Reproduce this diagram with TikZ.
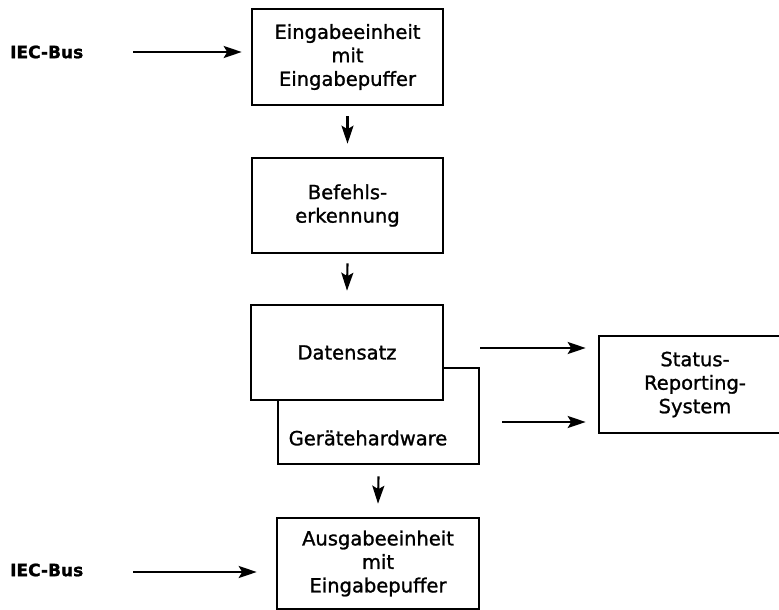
\documentclass[tikz,border=0pt]{standalone}
\usepackage{fontspec}
\setmainfont[FakeBold=1.2]{DejaVu Sans}
\usetikzlibrary{arrows.meta}
\tikzset{
  boxnode/.style={draw, line width=2.6pt, rectangle, inner sep=0pt, align=center,
    font=\fontsize{19.5}{23.5}\selectfont},
  txt/.style={inner sep=0pt, align=center, font=\fontsize{19.5}{23.5}\selectfont},
  bus/.style={inner sep=0pt, font=\bfseries\fontsize{17}{20}\selectfont},
  arr/.style={line width=2.1pt, -{Stealth[length=18pt,width=12pt,inset=3.5pt]}}
}
\begin{document}
\begin{tikzpicture}[x=1pt,y=-1pt]
\useasboundingbox (0,0) rectangle (779,610);
\clip (0,0) rectangle (779,610);
\fill[white] (0,0) rectangle (779,610);
% boxes
\node[boxnode, minimum width=191pt, minimum height=96pt] (b1) at (347.5,57)
  {Eingabeeinheit\\mit\\Eingabepuffer};
\node[boxnode, minimum width=191pt, minimum height=95pt] (b2) at (347.5,205.5)
  {Befehls-\\erkennung};
\node[boxnode, minimum width=201pt, minimum height=96pt] (ger) at (378.5,416) {};
\node[txt] (gtext) at (368,438) {Gerätehardware};
\node[boxnode, fill=white, minimum width=192pt, minimum height=95pt] (dat) at (347,352.5)
  {Datensatz};
\node[boxnode, minimum width=202pt, minimum height=91pt] (b4) at (378,563.5)
  {Ausgabeeinheit\\mit\\Eingabepuffer};
\node[boxnode, minimum width=192pt, minimum height=97pt] (st) at (695,384.5)
  {Status-\\Reporting-\\System};
% IEC bus labels
\node[bus, anchor=west] (iec1) at (10,52) {IEC-Bus};
\node[bus, anchor=west] (iec2) at (10,570) {IEC-Bus};
% connectors
\draw[arr] ([xshift=50pt]iec1.east) -- ([xshift=-9pt]iec1.east -| b1.west);
\draw[arr] ([xshift=50pt,yshift=-2pt]iec2.east) -- ([xshift=-19pt,yshift=-2pt]iec2.east -| b4.west);
\draw[arr] ([yshift=-10pt]b1.south) -- ([yshift=13pt]b2.north);
\draw[arr] ([yshift=-9pt]b2.south) -- ([yshift=13pt]dat.north);
\draw[arr] ([yshift=-11pt]ger.south) -- ([yshift=13pt]b4.north);
\coordinate (s1) at (480,348);
\coordinate (s2) at (502,422);
\draw[arr] (s1) -- ([xshift=-12pt]s1 -| st.west);
\draw[arr] (s2) -- ([xshift=-12pt]s2 -| st.west);
\end{tikzpicture}
\end{document}
